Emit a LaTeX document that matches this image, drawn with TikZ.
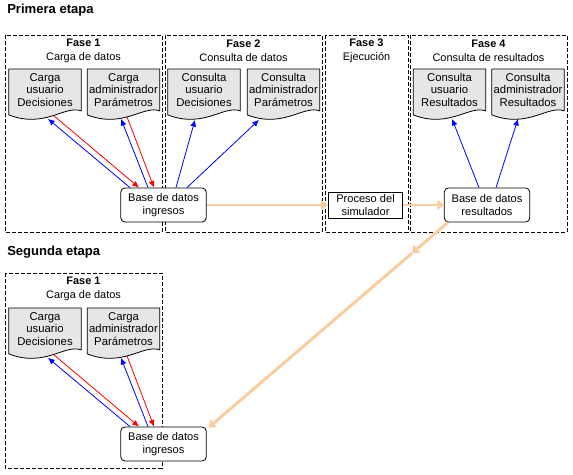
\documentclass[tikz,border=0pt]{standalone}
\usepackage{fontspec}
\setmainfont{Liberation Sans}
\usetikzlibrary{calc,arrows.meta,backgrounds}

\definecolor{naranja}{RGB}{252,204,158}
\definecolor{grisdoc}{RGB}{230,230,230}

\tikzset{
  fase/.style={draw, dash pattern=on 3pt off 1.5pt, line width=0.6pt},
  etapa/.style={anchor=west, inner sep=0pt, font=\fontsize{9.8}{11}\selectfont\bfseries},
  titulo/.style={align=center, inner sep=0pt, font=\fontsize{8.2}{10.5}\selectfont},
  docnodo/.style={anchor=north, minimum width=54pt, minimum height=31pt, inner sep=0pt,
    align=center, font=\fontsize{8.5}{9.3}\selectfont},
  docforma/.style={draw, fill=grisdoc, line width=0.6pt},
  base/.style={draw, fill=white, rounded corners=3pt, minimum width=64pt, minimum height=25.5pt,
    inner sep=1pt, align=center, line width=0.6pt, font=\fontsize{8.3}{9.5}\selectfont},
  proceso/.style={draw, fill=white, minimum width=56pt, minimum height=19.5pt, inner sep=1pt,
    align=center, line width=0.6pt, font=\fontsize{8.3}{9.5}\selectfont},
  azul/.style={blue, line width=0.6pt, -{Latex[length=5pt,width=4.5pt]}},
  rojo/.style={red, line width=0.6pt, -{Latex[length=5pt,width=4.5pt]}},
  flujo/.style={naranja, line width=2.2pt, -{Triangle[length=5pt,width=7.5pt]}},
}

% documento con borde ondulado: nombre, x, y (arriba), texto
\newcommand{\documento}[4]{%
  \node[docnodo] (#1) at (#2,#3) {#4};
  \begin{scope}[on background layer]
    \draw[docforma] (#1.north west) -- (#1.north east) -- (#1.south east)
      .. controls ($(#1.south west)+(56,-6)$) and ($(#1.south west)+(36,18)$)
      .. ($(#1.south west)+(0,4)$) -- cycle;
  \end{scope}}

\begin{document}
\begin{tikzpicture}[x=0.75pt,y=-0.75pt]
  \useasboundingbox (0,0) rectangle (573,474);

  % primera etapa
  \node[etapa] (etapa1) at (7,10) {Primera etapa};

  \draw[fase] (5,35) rectangle (162,232);
  \draw[fase] (165,35) rectangle (322,232);
  \draw[fase] (325,35) rectangle (408,232);
  \draw[fase] (410,35) rectangle (567,232);

  \node[titulo] (f1) at (83.5,51) {\textbf{Fase 1}\\Carga de datos};
  \node[titulo] (f2) at (243.5,51) {\textbf{Fase 2}\\Consulta de datos};
  \node[titulo] (f3) at (366.5,51) {\textbf{Fase 3}\\Ejecución};
  \node[titulo] (f4) at (488.5,51) {\textbf{Fase 4}\\Consulta de resultados};

  \documento{cu}{45}{69}{Carga\\usuario\\Decisiones}
  \documento{ca}{123.5}{69}{Carga\\administrador\\Parámetros}
  \documento{qu}{204}{69}{Consulta\\usuario\\Decisiones}
  \documento{qa}{283.5}{69}{Consulta\\administrador\\Parámetros}
  \documento{ru}{449.5}{69}{Consulta\\usuario\\Resultados}
  \documento{ra}{528}{69}{Consulta\\administrador\\Resultados}

  \node[base] (ing) at (163.5,205) {Base de datos\\ingresos};
  \node[proceso] (sim) at (365.5,205) {Proceso del\\simulador};
  \node[base] (res) at (487,205) {Base de datos\\resultados};

  \draw[azul] ($(ing.north)+(-33.5,0)$) -- ($(cu.south)+(3,8)$);
  \draw[rojo] ($(cu.south)+(9,5)$) -- ($(ing.north)+(-24.5,0)$);
  \draw[azul] ($(ing.north)+(-15.5,0)$) -- ($(ca.south)+(-2.5,8)$);
  \draw[rojo] ($(ca.south)+(3.5,6)$) -- ($(ing.north)+(-9.5,0)$);
  \draw[azul] ($(ing.north)+(12.5,0)$) -- ($(qu.south)+(-9,9)$);
  \draw[azul] ($(ing.north)+(23.5,0)$) -- ($(qa.south)+(-24.5,9)$);
  \draw[azul] ($(res.north)+(-8,0)$) -- ($(ru.south)+(2.5,8)$);
  \draw[azul] ($(res.north)+(9,0)$) -- ($(ra.south)+(-10,8)$);

  \draw[flujo] (ing) -- (sim);
  \draw[flujo] (sim) -- (res);

  % segunda etapa
  \node[etapa] (etapa2) at (7,252) {Segunda etapa};

  \draw[fase] (5,273) rectangle (162,468);
  \node[titulo] (f1b) at (83.5,289) {\textbf{Fase 1}\\Carga de datos};

  \documento{cub}{45}{308}{Carga\\usuario\\Decisiones}
  \documento{cab}{123.5}{308}{Carga\\administrador\\Parámetros}

  \node[base] (ingb) at (163.5,444) {Base de datos\\ingresos};

  \draw[azul] ($(ingb.north)+(-33.5,0)$) -- ($(cub.south)+(3,8)$);
  \draw[rojo] ($(cub.south)+(9,5)$) -- ($(ingb.north)+(-24.5,0)$);
  \draw[azul] ($(ingb.north)+(-15.5,0)$) -- ($(cab.south)+(-2.5,8)$);
  \draw[rojo] ($(cab.south)+(3.5,6)$) -- ($(ingb.north)+(-9.5,0)$);

  \coordinate (orig) at ($(res.south west)+(4,0)$);
  \coordinate (dest) at ($(ingb.north east)+(2,1)$);
  \coordinate (medio) at ($(orig)!0.15!(dest)$);
  \draw[flujo] (orig) -- (medio);
  \draw[flujo] (medio) -- (dest);
\end{tikzpicture}
\end{document}
